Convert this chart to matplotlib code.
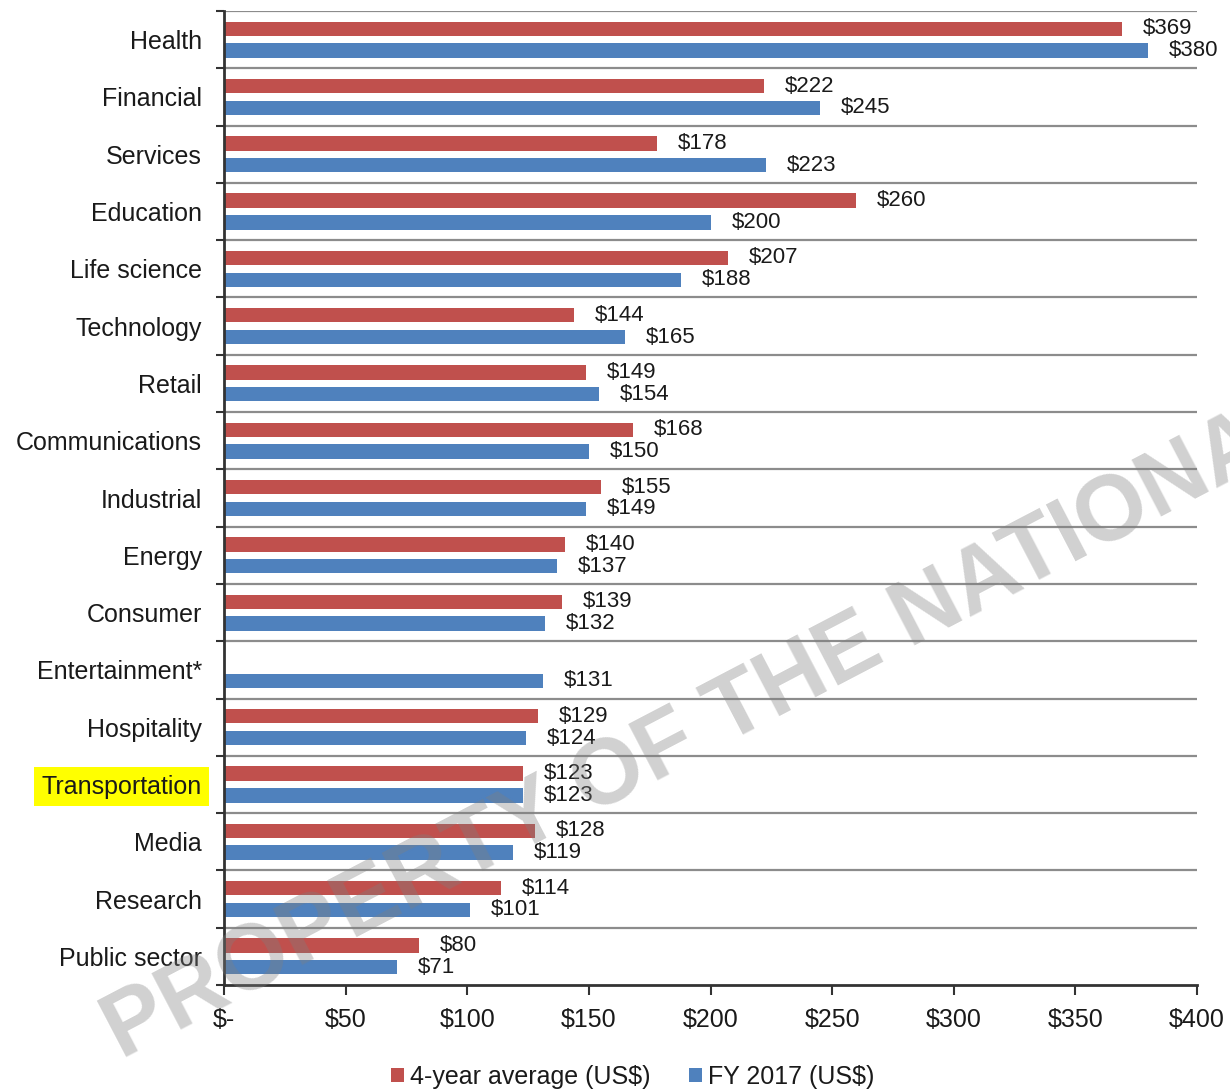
import matplotlib
matplotlib.use("Agg")
import matplotlib.pyplot as plt
from matplotlib.patches import Patch
import numpy as np

categories = ["Health", "Financial", "Services", "Education", "Life science",
              "Technology", "Retail", "Communications", "Industrial", "Energy",
              "Consumer", "Entertainment*", "Hospitality", "Transportation",
              "Media", "Research", "Public sector"]
avg_4yr = [369, 222, 178, 260, 207, 144, 149, 168, 155, 140, 139, np.nan,
           129, 123, 128, 114, 80]
fy_2017 = [380, 245, 223, 200, 188, 165, 154, 150, 149, 137, 132, 131,
           124, 123, 119, 101, 71]
xticks = [0, 50, 100, 150, 200, 250, 300, 350, 400]
xtick_labels = ["$-", "$50", "$100", "$150", "$200", "$250", "$300", "$350", "$400"]
legend_labels = ["4-year average (US$)", "FY 2017 (US$)"]
highlight = "Transportation"
watermark = "PROPERTY OF THE NATIONAL"

RED = "#C0504D"
BLUE = "#4F81BD"
TXT = "#1a1a1a"
FONT = ["Liberation Sans", "DejaVu Sans"]

plt.rcParams["font.family"] = FONT

fig = plt.figure(figsize=(12.3, 10.9), dpi=100)
ax = fig.add_axes([224/1230, 1-985/1090, (1197-224)/1230, (985-11)/1090])

n = len(categories)
y = np.arange(n)
h = 0.25
off = 0.19
ax.barh(y - off, avg_4yr, height=h, color=RED, zorder=3)
ax.barh(y + off, fy_2017, height=h, color=BLUE, zorder=3)

for yi, v in zip(y - off, avg_4yr):
    if not np.isnan(v):
        ax.annotate(f"${v:.0f}", (v, yi), xytext=(15, 0), textcoords="offset points",
                    ha="left", va="center", fontsize=16, color=TXT)
for yi, v in zip(y + off, fy_2017):
    ax.annotate(f"${v:.0f}", (v, yi), xytext=(15, 0), textcoords="offset points",
                ha="left", va="center", fontsize=16, color=TXT)

ax.set_xlim(0, 400)
ax.set_ylim(n - 0.5, -0.5)

# gridlines at category boundaries
for b in np.arange(-0.5, n - 0.5, 1.0):
    ax.axhline(b, color="#8c8c8c", lw=1.6, zorder=1)

ax.set_yticks(np.arange(-0.5, n + 0.5, 1.0))
ax.set_yticklabels([])
ax.set_yticks(y, minor=True)
ax.set_yticklabels(categories, minor=True, fontsize=18, color=TXT)
ax.tick_params(axis="y", which="minor", length=0, pad=16)
ax.tick_params(axis="y", which="major", length=6, width=1.5, color="#333333", direction="out")

ax.set_xticks(xticks)
ax.set_xticklabels(xtick_labels, fontsize=18, color=TXT)
ax.tick_params(axis="x", length=7, width=1.5, color="#333333", direction="out", pad=9.5)

for lab in ax.get_yticklabels(minor=True):
    if lab.get_text() == highlight:
        lab.set_bbox(dict(facecolor="#FFFF00", edgecolor="none", boxstyle="square,pad=0.3"))

for s in ["top", "right"]:
    ax.spines[s].set_visible(False)
for s in ["left", "bottom"]:
    ax.spines[s].set_color("#333333")
    ax.spines[s].set_linewidth(2)
    ax.spines[s].set_zorder(4)

handles = [Patch(facecolor=RED, edgecolor="none"), Patch(facecolor=BLUE, edgecolor="none")]
fig.legend(handles, legend_labels, loc="center", bbox_to_anchor=(633/1230, 1-1077/1090),
           ncol=2, frameon=False, fontsize=18, handlelength=0.5, handleheight=0.5,
           handletextpad=0.25, columnspacing=1.55, labelcolor=TXT)

fig.text(122/1230, 1-1060/1090, watermark, rotation=27.6, rotation_mode="anchor",
         ha="left", va="baseline", fontsize=66, fontweight="bold",
         color="#7f7f7f", alpha=0.36, zorder=10)

fig.savefig("out.png", dpi=100)
